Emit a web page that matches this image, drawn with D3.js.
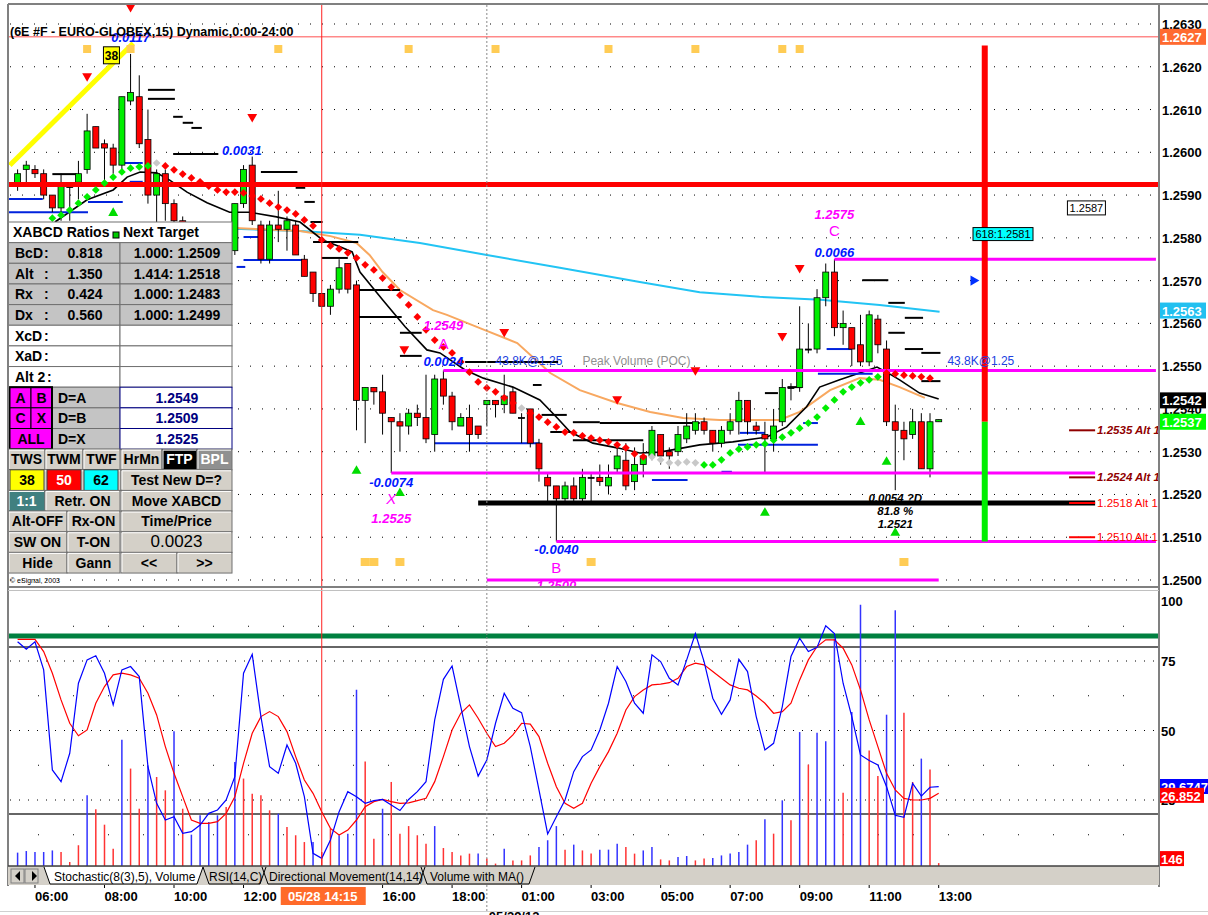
<!DOCTYPE html>
<html>
<head>
<meta charset="utf-8">
<script src="https://cdn.jsdelivr.net/npm/d3@7"></script>
<style>
body { margin: 0; background: #fff; }
svg { display: block; font-family: "Liberation Sans", Arial, sans-serif; }
</style>
</head>
<body>
<div id="chart"></div>
<script>
// ---------- data ----------
// 15 min bars, index 0 = 05:30 ... index 106 = 13:00
const priceTicks = [1.2630, 1.2620, 1.2610, 1.2600, 1.2590, 1.2580, 1.2570, 1.2560, 1.2550, 1.2540, 1.2530, 1.2520, 1.2510, 1.2500];
const timeTicks = [[2, "06:00"], [10, "08:00"], [18, "10:00"], [26, "12:00"], [42, "16:00"], [50, "18:00"],
  [58, "01:00"], [66, "03:00"], [74, "05:00"], [82, "07:00"], [90, "09:00"], [98, "11:00"], [106, "13:00"]];
const cursorBar = 35, cursorLabel = "05/28 14:15";
const dayBreakBar = 54, dayLabel = "05/29/12";

// open, high, low, close
const candles = [
  [1.2592,1.2596,1.2591,1.2595],[1.2596,1.2598,1.2592,1.2597],[1.2596,1.2597,1.2594,1.2595],[1.2595,1.2596,1.2589,1.2590],
  [1.2590,1.2590,1.2586,1.2587],[1.2587,1.2595,1.2584,1.2592],[1.2592,1.2593,1.2584,1.2592],[1.2593,1.2598,1.2589,1.2595],
  [1.2596,1.2609,1.2595,1.2605],[1.2606,1.2606,1.2601,1.2601],[1.2602,1.2603,1.2592,1.2601],[1.2601,1.2602,1.2595,1.2597],
  [1.2597,1.2613,1.2596,1.2613],[1.2612,1.2623,1.2611,1.2614],[1.2613,1.2618,1.2601,1.2602],[1.2603,1.2610,1.2588,1.2590],
  [1.2590,1.2596,1.2583,1.2595],[1.2595,1.2596,1.2584,1.2588],[1.2588,1.2589,1.2582,1.2584],[1.2584,1.2585,1.2578,1.2580],
  [1.2580,1.2582,1.2576,1.2581],[1.2581,1.2583,1.2577,1.2578],[1.2578,1.2581,1.2575,1.2580],[1.2580,1.2582,1.2576,1.2577],
  [1.2577,1.2579,1.2573,1.2576],[1.2577,1.2588,1.2576,1.2588],[1.2588,1.2597,1.2587,1.2596],[1.2597,1.2599,1.2583,1.2584],
  [1.2583,1.2584,1.2574,1.2575],[1.2575,1.2584,1.2574,1.2583],[1.2583,1.2591,1.2579,1.2582],[1.2582,1.2585,1.2577,1.2584],
  [1.2583,1.2584,1.2576,1.2576],[1.2575,1.2576,1.2571,1.2571],[1.2572,1.2572,1.2565,1.2567],[1.2567,1.2567,1.2564,1.2564],
  [1.2564,1.2569,1.2562,1.2568],[1.2568,1.2575,1.2567,1.2573],[1.2574,1.2574,1.2567,1.2568],[1.2569,1.2570,1.2535,1.2542],
  [1.2542,1.2545,1.2532,1.2545],[1.2545,1.2545,1.2541,1.2544],[1.2544,1.2548,1.2534,1.2539],[1.2538,1.2538,1.2525,1.2537],
  [1.2537,1.2539,1.2530,1.2536],[1.2536,1.2540,1.2534,1.2539],[1.2539,1.2541,1.2536,1.2538],[1.2538,1.2548,1.2532,1.2533],
  [1.2534,1.2548,1.2530,1.2547],[1.2547,1.2549,1.2541,1.2543],[1.2543,1.2544,1.2535,1.2537],[1.2536,1.2539,1.2536,1.2538],
  [1.2538,1.2541,1.2530,1.2534],[1.2536,1.2536,1.2533,1.2534],[1.2541,1.2542,1.2536,1.2542],[1.2542,1.2542,1.2538,1.2541],
  [1.2541,1.2548,1.2539,1.2543],[1.2544,1.2545,1.2539,1.2539],[1.2538,1.2539,1.2532,1.2538],[1.2540,1.2540,1.2531,1.2532],
  [1.2532,1.2533,1.2523,1.2526],[1.2524,1.2525,1.2518,1.2522],[1.2522,1.2522,1.2509,1.2519],[1.2519,1.2523,1.2518,1.2522],
  [1.2522,1.2524,1.2518,1.2519],[1.2519,1.2526,1.2518,1.2524],[1.2524,1.2525,1.2518,1.2524],[1.2524,1.2527,1.2522,1.2523],
  [1.2522,1.2527,1.2520,1.2524],[1.2526,1.2531,1.2525,1.2529],[1.2528,1.2532,1.2521,1.2522],[1.2523,1.2531,1.2521,1.2527],
  [1.2527,1.2532,1.2524,1.2529],[1.2529,1.2536,1.2528,1.2535],[1.2534,1.2534,1.2527,1.2529],[1.2530,1.2531,1.2526,1.2529],
  [1.2530,1.2536,1.2529,1.2534],[1.2533,1.2539,1.2532,1.2536],[1.2535,1.2539,1.2534,1.2537],[1.2537,1.2538,1.2534,1.2535],
  [1.2535,1.2535,1.2530,1.2532],[1.2532,1.2536,1.2531,1.2535],[1.2535,1.2539,1.2534,1.2537],[1.2537,1.2544,1.2534,1.2542],
  [1.2542,1.2542,1.2534,1.2537],[1.2536,1.2537,1.2534,1.2535],[1.2534,1.2537,1.2525,1.2533],[1.2533,1.2540,1.2530,1.2536],
  [1.2537,1.2547,1.2536,1.2545],[1.2545,1.2546,1.2542,1.2545],[1.2545,1.2564,1.2544,1.2554],[1.2554,1.2560,1.2553,1.2554],
  [1.2554,1.2568,1.2553,1.2566],[1.2566,1.2574,1.2564,1.2572],[1.2572,1.2575,1.2557,1.2559],[1.2559,1.2563,1.2555,1.2560],
  [1.2559,1.2559,1.2550,1.2554],[1.2555,1.2562,1.2550,1.2551],[1.2551,1.2563,1.2550,1.2562],[1.2561,1.2562,1.2553,1.2555],
  [1.2554,1.2556,1.2536,1.2537],[1.2537,1.2541,1.2521,1.2535],[1.2535,1.2537,1.2528,1.2533],[1.2534,1.2540,1.2533,1.2537],
  [1.2537,1.2539,1.2526,1.2526],[1.2526,1.2539,1.2524,1.2537],[1.25370,1.25375,1.25370,1.25375]
];

// moving averages: [bar, price]
const maFast = [[4.3,1.25837],[8,1.25889],[11,1.25912],[12.6,1.25942],[14.1,1.25954],[16,1.25952],[17.5,1.25935],
  [19.5,1.25907],[21.8,1.25882],[24.4,1.2586],[26.7,1.2586],[29.8,1.25849],[32.5,1.25837],[35.1,1.25795],[37.1,1.25779],
  [38.5,1.25767],[39.4,1.2572],[42,1.25655],[44.6,1.25592],[47.1,1.25538],[48.6,1.25531],[51.5,1.25491],[53.6,1.25472],
  [57,1.25451],[60.1,1.25421],[62,1.25381],[63.6,1.25346],[66.2,1.2532],[69,1.25309],[71.6,1.25297],[73.9,1.25299],
  [76.6,1.25309],[78.5,1.25316],[82.3,1.25323],[86.2,1.25334],[88.5,1.25358],[90.8,1.25405],[92.3,1.25451],[94.6,1.25468],
  [96.9,1.25484],[98.9,1.25498],[100,1.25486],[101.5,1.25468],[103.8,1.25437],[106,1.25423]];
const maMid = [[25,1.25823],[32.5,1.25816],[36,1.25804],[39,1.25788],[40.5,1.2576],[42,1.2572],[44,1.25678],[47.8,1.25631],
  [49.4,1.2562],[53.2,1.25589],[57.5,1.25554],[61.3,1.25484],[64.7,1.25444],[69,1.25414],[72.8,1.25393],[76.6,1.25379],
  [80.8,1.25374],[87.7,1.25374],[90,1.25393],[93.5,1.25444],[96.9,1.25472],[99.2,1.25468],[101.5,1.25451],[104.4,1.25426]];
const maLong = [[24.8,1.25821],[32.5,1.25816],[39.4,1.25807],[46.3,1.25788],[54,1.2576],[62.4,1.2573],[71.6,1.25697],
  [78.5,1.25673],[85.4,1.25662],[92.4,1.25655],[99.2,1.25643],[106.1,1.25627]];

// stop-and-reverse dots from bar 4 on, and their colour runs (g up, r down, x neutral)
const sarStart = 4;
const sarVals = [1.25846,1.25853,1.25865,1.25881,1.25896,1.25912,1.25928,1.25942,1.25954,1.25963,1.25966,1.25968,
  1.25975,
  1.25968,1.25959,1.25949,1.2594,1.25931,1.25921,1.25912,1.25907,1.25907,1.25905,1.25898,1.25891,1.25881,1.25872,
  1.25865,1.25856,1.25842,1.25828,1.25795,1.25781,1.25774,1.25765,1.25753,1.25737,1.25725,1.25706,1.25685,1.25666,
  1.25643,1.25615,1.25585,1.25561,1.25545,1.25531,1.2551,1.25486,1.25463,1.25449,1.2544,1.25426,1.25414,
  1.25402,
  1.2539,1.25381,1.25369,1.25358,1.25346,1.25344,1.25337,1.25332,1.25327,1.25323,1.25316,1.25309,1.25295,1.25288,
  1.25288,1.25281,1.25274,1.25274,1.25276,1.25274,
  1.25269,1.25269,1.25281,1.25297,1.25306,1.25311,1.25316,1.25318,1.25327,1.25334,1.25344,1.25355,1.25367,1.25381,
  1.25402,1.25421,1.2544,1.25451,1.25461,1.25468,1.25475,
  1.25484,1.25482,1.25479,1.25477,1.25475,1.25472];
const sarRuns = [["g",12],["x",1],["r",41],["x",1],["r",14],["x",6],["g",21],["r",6]];

// pivot step segments: [from bar, to bar, price]
const blackSegs = [[15,18.1,1.26146],[15,18.1,1.26125],[17.9,19,1.26083],[19,20.2,1.26069],[20,21.2,1.26057],
  [17.9,23.1,1.25996],[4,6.8,1.25949],[28,32.2,1.25954],[32,33.1,1.25917],[33,34.2,1.25884],[33.7,35.1,1.25837],
  [34,39.2,1.2579],[35,38,1.25753],[38.8,44,1.25678],[39.2,44.2,1.25615],[44,46.5,1.25578],[44,46.5,1.25524],
  [51.5,62.2,1.2551],[59.3,60.3,1.25456],[60.3,63.2,1.25386],[61.3,63.6,1.25346],[63.9,67,1.25369],[67,78.5,1.25367],
  [63.9,72,1.25327],[86,87.5,1.25437],[88.6,90.3,1.25451],[97.2,100.2,1.25701],[100.2,102.1,1.25648],
  [102.1,104.2,1.25613],[100.2,102.1,1.25578],[102.1,104.2,1.2554],[104,106.2,1.25531],[104,106.2,1.25465]];
const blueSegs = [[-1.1,2.9,1.25891],[-1.1,8.1,1.2586],[8.1,12.1,1.25884],[12.1,14.4,1.25975],[12.9,14.4,1.25931],
  [26,27.7,1.25802],[26,32.8,1.25748],[25.2,26.2,1.25732],[48,60.1,1.2532],[73,77.1,1.25234],[93.1,96,1.2554],
  [92.1,98.4,1.25482],[83.1,86,1.25344],[82.9,92.1,1.25316],[81,82.2,1.25253],[90.4,92.1,1.25367]];

// signal markers [bar, price]
const downMarks = [[13,1.2634],[8,1.26178],[27,1.26083],[44.5,1.2554],[56,1.2558],[69,1.25423],[78,1.25491],[88,1.25571],[90,1.2573]];
const upMarks = [[11,1.25858],[39,1.25255],[44,1.25203],[86,1.25157],[97,1.25369],[100,1.25276],[101,1.2511]];
const topSquares = [8, 13, 30, 45, 55, 68, 78, 88, 90];
const bottomSquares = [40, 41, 44, 66, 102];

// XABCD levels: [price, from bar, to bar]
const patternLevels = [[1.2575,94,131],[1.2549,49,131],[1.2525,43,124],[1.2509,62,131],[1.2500,54,106]];
const dLevel = [1.2518, 53, 124];
const mainLevel = 1.25925, highLevel = 1.2627;
const timePriceBar = 111.3, timePriceTop = 1.2625, timePriceMid = 1.2537, timePriceBottom = 1.2509;
const altStrong = [1.2535, 1.2524], altWeak = [1.2518, 1.2510];
const fibLine = [[-0.9, 1.2597], [13.3, 1.26255]];

const chartLabels = [
  [13,1.26258,"0.0117","swing"],[25.8,1.25994,"0.0031","swing"],[49,1.2550,"0.0024","swing"],
  [43,1.25217,"-0.0074","swing"],[62,1.25061,"-0.0040","swing"],[94,1.25755,"0.0066","swing"],
  [49,1.25585,"1.2549","point"],[49,1.2554,"A","letter"],[43,1.25178,"X","letterI"],[43,1.25133,"1.2525","point"],
  [62,1.25016,"B","letter"],[62,1.24977,"1.2500","point"],[94,1.25844,"1.2575","point"],[94,1.25804,"C","letter"],
  [101,1.25182,"0.0054 ?D","dInfo"],[101,1.25152,"81.8 %","dInfo"],[101,1.25122,"1.2521","dInfo"],
  [55,1.25503,"43.8K@1.25","poc"],[65,1.25503,"Peak Volume (POC)","pocName"],[107,1.25503,"43.8K@1.25","poc"]
];
const flagValues = [1.2627, 1.2563, 1.2542, 1.2537];

// lower pane: stochastic %K, %D and volume
const stochK = [81.9,79.2,81.9,71.8,35.8,31.6,41.8,67.0,75.4,76.9,
  70.6,59.2,71.8,73.0,69.4,37.0,23.8,17.8,19.0,13.0,
  13.6,16.0,20.2,21.4,25.0,33.4,70.6,77.4,55.0,37.0,
  34.6,44.8,38.2,26.2,5.8,4.0,10.6,20.8,28.0,26.2,
  23.8,24.8,25.2,23.2,21.2,25.2,28.0,31.6,53.8,68.4,
  73.2,58.6,44.2,33.6,39.4,52.6,63.4,58.0,56.4,44.2,
  28.6,12.8,19.0,25.0,35.2,40.6,43.0,50.2,59.8,73.0,
  67.6,59.8,56.2,77.2,74.8,68.8,66.4,75.4,84.9,74.8,
  61.6,55.8,61.0,75.6,71.2,55.0,43.0,45.4,58.6,76.6,
  83.2,78.4,79.9,87.7,84.9,67.0,55.0,41.2,39.2,37.6,
  29.8,19.5,18.8,31.0,26.4,29.6,29.8];
const stochD = [82.8,82.8,82.8,78.4,70.6,61.0,52.6,48.1,50.2,59.8,
  65.8,70.0,70.6,70.0,68.8,63.4,55.6,44.2,34.6,26.2,
  17.8,16.6,16.6,17.2,20.2,26.2,38.2,49.0,55.0,56.8,
  55.0,49.6,40.6,32.2,27.4,20.8,14.8,12.4,14.2,17.8,
  22.6,24.4,25.2,24.4,23.8,24.0,24.8,25.6,31.6,40.6,
  50.2,56.2,59.2,54.4,49.0,44.2,45.4,48.4,52.6,52.3,
  47.8,38.2,29.8,23.8,22.0,23.8,31.0,37.0,42.4,49.0,
  57.4,62.2,64.6,66.4,66.7,67.2,68.8,73.0,74.2,73.6,
  71.2,68.8,66.4,65.2,64.6,62.4,59.8,56.2,56.8,59.8,
  68.2,75.4,80.2,82.6,82.6,79.6,73.6,64.6,53.8,44.2,
  34.6,28.6,25.6,25.0,25.0,25.6,27.4];
const volumes = [670,750,700,700,780,700,200,1040,3540,2840,
  2070,870,6330,4880,2870,5040,4460,3790,6750,2870,
  1570,2540,2200,2540,2960,5210,4380,3620,3540,2790,
  2620,1950,1540,1200,1200,700,1870,1540,1620,8830,
  5240,1370,2870,4210,1620,2000,1540,1120,2000,900,
  700,530,620,620,370,120,870,280,280,530,
  950,1290,2000,820,1070,780,620,820,820,1120,
  950,620,780,950,330,280,450,500,280,370,
  400,530,620,700,1070,1290,2340,1620,3290,2290,
  6710,5080,6680,6250,11390,3670,7720,13090,5790,4510,
  7580,12810,7680,4210,5380,4830,146];
const volSide = "bbbbbrrrbr" + "rrbrrbrrbr" + "bbbbrbrrrr" + "brrrbrrbbb" + "rrbrrrrrbr" +
  "rrrbrrbrrr" + "bbbrbrrbbb" + "rrbbrrbbrr" + "bbbbbrbrbr" + "brbbbrbbrr" + "bbrrbrr";
const stochLastK = "29.6747", stochLastD = "26.852";
const stochMajor = [75, 50, 25], stochMinor = [87.5, 62.5, 37.5, 12.5], stochBands = [80, 20], stochLine = 84;
const stochTicks = [100, 75, 50, 25];

// XABCD panel contents
const ratioRows = [["BcD", "0.818", "1.000: 1.2509"], ["Alt", "1.350", "1.414: 1.2518"],
  ["Rx", "0.424", "1.000: 1.2483"], ["Dx", "0.560", "1.000: 1.2499"]];
const blankRows = ["XcD", "XaD", "Alt 2"];
const targetRows = [["D=A", "1.2549"], ["D=B", "1.2509"], ["D=X", "1.2525"]];
const tabs = ["Stochastic(8(3),5), Volume", "RSI(14,C)", "Directional Movement(14,14)", "Volume with MA()"];

// ---------- layout ----------
const W = 1208, H = 915;
const L = 8, R = 1158;
const x = d3.scaleLinear().domain([0, 106]).range([17.6, 938.7]);
const y = d3.scaleLinear().domain([1.2500, 1.2630]).range([580, 24]);
const ys = d3.scaleLinear().domain([0, 100]).range([869.5, 591.5]);
const yv = d3.scaleLinear().domain([0, 13000]).range([866, 606.5]);

const svg = d3.select("#chart").append("svg").attr("width", W).attr("height", H);
const defs = svg.append("defs");
defs.append("clipPath").attr("id", "clipMain").append("rect")
  .attr("x", L + 1).attr("y", 5).attr("width", R - L - 1).attr("height", 581);
defs.append("clipPath").attr("id", "clipLow").append("rect")
  .attr("x", L + 1).attr("y", 592).attr("width", R - L - 1).attr("height", 274);

svg.append("rect").attr("width", W).attr("height", H).attr("fill", "#fff");

// ---------- main price pane ----------
const main = svg.append("g").attr("clip-path", "url(#clipMain)");

main.selectAll("line.grid").data(priceTicks).join("line")
  .attr("x1", L + 2).attr("x2", R).attr("y1", d => y(d)).attr("y2", d => y(d))
  .attr("stroke", "#000").attr("stroke-dasharray", "1,11");

main.append("line").attr("x1", L).attr("x2", R).attr("y1", y(highLevel)).attr("y2", y(highLevel))
  .attr("stroke", "#ff5050").attr("stroke-width", 1);

// moving averages
const priceLine = d3.line().x(d => x(d[0])).y(d => y(d[1]));
main.append("path").datum(maLong).attr("d", priceLine).attr("fill", "none").attr("stroke", "#22c4f4").attr("stroke-width", 2);
main.append("path").datum(maMid).attr("d", priceLine).attr("fill", "none").attr("stroke", "#f8a860").attr("stroke-width", 2);
main.append("path").datum(maFast).attr("d", priceLine).attr("fill", "none").attr("stroke", "#000").attr("stroke-width", 1.6);

// step segments
main.selectAll("line.bseg").data(blackSegs).join("line")
  .attr("x1", d => x(d[0])).attr("x2", d => x(d[1])).attr("y1", d => y(d[2])).attr("y2", d => y(d[2]))
  .attr("stroke", "#000").attr("stroke-width", 2);
main.selectAll("line.useg").data(blueSegs).join("line")
  .attr("x1", d => x(d[0])).attr("x2", d => x(d[1])).attr("y1", d => y(d[2])).attr("y2", d => y(d[2]))
  .attr("stroke", "#0022dd").attr("stroke-width", 2);

// yellow swing line
main.append("path").datum(fibLine).attr("d", priceLine).attr("stroke", "#ffff00").attr("stroke-width", 5);

// candles
const cg = main.selectAll("g.candle").data(candles).join("g");
cg.append("line")
  .attr("x1", (d, i) => x(i)).attr("x2", (d, i) => x(i))
  .attr("y1", d => y(d[1])).attr("y2", d => y(d[2]))
  .attr("stroke", "#000").attr("stroke-width", 1);
cg.append("rect")
  .attr("x", (d, i) => x(i) - 3).attr("width", 6)
  .attr("y", d => y(Math.max(d[0], d[3])))
  .attr("height", d => Math.max(1, Math.abs(y(d[0]) - y(d[3]))))
  .attr("fill", d => d[3] > d[0] ? "#00ee00" : d[3] < d[0] ? "#ff0000" : "#000")
  .attr("stroke", "#000").attr("stroke-width", 0.8);

// pattern levels
main.selectAll("line.pat").data(patternLevels).join("line")
  .attr("x1", d => x(d[1])).attr("x2", d => x(d[2])).attr("y1", d => y(d[0])).attr("y2", d => y(d[0]))
  .attr("stroke", "#ff00ff").attr("stroke-width", 3);
main.append("line").attr("x1", x(dLevel[1])).attr("x2", x(dLevel[2]))
  .attr("y1", y(dLevel[0])).attr("y2", y(dLevel[0])).attr("stroke", "#000").attr("stroke-width", 5);
main.append("line").attr("x1", L).attr("x2", R).attr("y1", y(mainLevel)).attr("y2", y(mainLevel))
  .attr("stroke", "#ff0000").attr("stroke-width", 5);

// alt targets on the right
const altG = main.append("g");
altStrong.concat(altWeak).forEach((v, k) => {
  const strong = k < altStrong.length;
  altG.append("line").attr("x1", x(121)).attr("x2", x(124)).attr("y1", y(v)).attr("y2", y(v))
    .attr("stroke", strong ? "#900000" : "#ff0000").attr("stroke-width", 2);
  altG.append("text").attr("x", x(124) + 2).attr("y", y(v) + 4)
    .attr("font-size", 11.5).attr("font-weight", strong ? "bold" : "normal")
    .attr("font-style", strong ? "italic" : "normal")
    .attr("fill", strong ? "#900000" : "#ff0000").text(v.toFixed(4) + " Alt 1");
});

// time/price vertical
main.append("line").attr("x1", x(timePriceBar)).attr("x2", x(timePriceBar))
  .attr("y1", y(timePriceTop)).attr("y2", y(timePriceMid)).attr("stroke", "#ff0000").attr("stroke-width", 6);
main.append("line").attr("x1", x(timePriceBar)).attr("x2", x(timePriceBar))
  .attr("y1", y(timePriceMid)).attr("y2", y(timePriceBottom)).attr("stroke", "#00ee00").attr("stroke-width", 6);

// SAR diamonds
const sarColors = [];
sarRuns.forEach(r => { for (let k = 0; k < r[1]; k++) sarColors.push(r[0]); });
const sarFill = { g: "#00ee00", r: "#ff0000", x: "#c8c8c8" };
main.selectAll("path.sar").data(sarVals).join("path")
  .attr("d", d3.symbol(d3.symbolSquare, 30))
  .attr("transform", (d, k) => `translate(${x(k + sarStart)},${y(d)}) rotate(45)`)
  .attr("fill", (d, k) => sarFill[sarColors[k]]);

// triangles
main.selectAll("path.dn").data(downMarks).join("path")
  .attr("d", d3.symbol(d3.symbolTriangle, 42))
  .attr("transform", d => `translate(${x(d[0])},${y(d[1])}) rotate(180)`)
  .attr("fill", "#ff0000");
main.selectAll("path.up").data(upMarks).join("path")
  .attr("d", d3.symbol(d3.symbolTriangle, 42))
  .attr("transform", d => `translate(${x(d[0])},${y(d[1])})`)
  .attr("fill", "#00dd00");
main.append("path").attr("d", d3.symbol(d3.symbolTriangle, 46))
  .attr("transform", `translate(${x(110)},${y(1.2570)}) rotate(90)`).attr("fill", "#0030ff");

// squares
main.selectAll("rect.tsq").data(topSquares).join("rect")
  .attr("x", d => x(d) - 4).attr("y", 45).attr("width", 8).attr("height", 8).attr("fill", "#ffcc55");
main.selectAll("rect.bsq").data(bottomSquares).join("rect")
  .attr("x", d => x(d) - 4.5).attr("y", 558).attr("width", 9).attr("height", 8).attr("fill", "#ffcc55");

// 38 box
main.append("rect").attr("x", x(10.8) - 8).attr("y", y(1.26228) - 8).attr("width", 16).attr("height", 17)
  .attr("fill", "#ffff00").attr("stroke", "#000");
main.append("text").attr("x", x(10.8)).attr("y", y(1.26228) + 5).attr("text-anchor", "middle")
  .attr("font-size", 12).attr("font-weight", "bold").text("38");

// labels
const labelStyle = {
  swing: { fill: "#0018ff", w: "bold", s: "italic", size: 13, a: "middle" },
  point: { fill: "#ff00ff", w: "bold", s: "italic", size: 13, a: "middle" },
  letter: { fill: "#ff00ff", w: "normal", s: "normal", size: 15, a: "middle" },
  letterI: { fill: "#ff00ff", w: "normal", s: "italic", size: 15, a: "middle" },
  dInfo: { fill: "#000", w: "bold", s: "italic", size: 11.5, a: "middle" },
  poc: { fill: "#2040e0", w: "normal", s: "normal", size: 12, a: "start" },
  pocName: { fill: "#909090", w: "normal", s: "normal", size: 12, a: "start" }
};
main.selectAll("text.lab").data(chartLabels).join("text")
  .attr("x", d => x(d[0])).attr("y", d => y(d[1]))
  .attr("text-anchor", d => labelStyle[d[3]].a)
  .attr("font-size", d => labelStyle[d[3]].size)
  .attr("font-weight", d => labelStyle[d[3]].w)
  .attr("font-style", d => labelStyle[d[3]].s)
  .attr("fill", d => labelStyle[d[3]].fill)
  .text(d => d[2]);

// small boxed values
main.append("rect").attr("x", x(123) - 19).attr("y", y(1.2587) - 7).attr("width", 38).attr("height", 14)
  .attr("fill", "#fff").attr("stroke", "#000");
main.append("text").attr("x", x(123)).attr("y", y(1.2587) + 4).attr("text-anchor", "middle")
  .attr("font-size", 11).text("1.2587");
main.append("rect").attr("x", x(113.4) - 30).attr("y", y(1.2581) - 6).attr("width", 60).attr("height", 13)
  .attr("fill", "#00ffff").attr("stroke", "#000");
main.append("text").attr("x", x(113.4)).attr("y", y(1.2581) + 4).attr("text-anchor", "middle")
  .attr("font-size", 11).text("618:1.2581");

main.append("text").attr("x", 10).attr("y", 36).attr("font-size", 12.5).attr("font-weight", "bold")
  .text("(6E #F - EURO-GLOBEX,15) Dynamic,0:00-24:00");
main.append("text").attr("x", 10).attr("y", 583).attr("font-size", 7).text("© eSignal, 2003");

// ---------- lower stochastic pane ----------
const low = svg.append("g").attr("clip-path", "url(#clipLow)");
low.selectAll("line.maj").data(stochMajor).join("line")
  .attr("x1", L + 2).attr("x2", R).attr("y1", d => ys(d)).attr("y2", d => ys(d))
  .attr("stroke", "#000").attr("stroke-dasharray", "1,8");
low.selectAll("line.min").data(stochMinor).join("line")
  .attr("x1", L + 30).attr("x2", R).attr("y1", d => ys(d)).attr("y2", d => ys(d))
  .attr("stroke", "#000").attr("stroke-dasharray", "1,34");
low.selectAll("line.band").data(stochBands).join("line")
  .attr("x1", L).attr("x2", R).attr("y1", d => ys(d)).attr("y2", d => ys(d))
  .attr("stroke", "#333").attr("stroke-width", 1.5);
low.append("line").attr("x1", L).attr("x2", R).attr("y1", ys(stochLine)).attr("y2", ys(stochLine))
  .attr("stroke", "#008040").attr("stroke-width", 5);

low.selectAll("line.vol").data(volumes).join("line")
  .attr("x1", (d, i) => x(i)).attr("x2", (d, i) => x(i))
  .attr("y1", yv(0)).attr("y2", d => yv(d))
  .attr("stroke", (d, i) => volSide[i] === "b" ? "#3333ff" : "#ff3333").attr("stroke-width", 1.5);

const stochLine2 = d3.line().x((d, i) => x(i)).y(d => ys(d));
low.append("path").datum(stochD).attr("d", stochLine2).attr("fill", "none").attr("stroke", "#ff0000").attr("stroke-width", 1.2);
low.append("path").datum(stochK).attr("d", stochLine2).attr("fill", "none").attr("stroke", "#0000ff").attr("stroke-width", 1.2);

// cursor and day break through both panes
svg.append("line").attr("x1", x(cursorBar)).attr("x2", x(cursorBar)).attr("y1", 5).attr("y2", 866)
  .attr("stroke", "#ff2020").attr("stroke-width", 1);
svg.append("line").attr("x1", x(dayBreakBar)).attr("x2", x(dayBreakBar)).attr("y1", 5).attr("y2", 912)
  .attr("stroke", "#888").attr("stroke-dasharray", "2,2");

// ---------- XABCD panel ----------
const tb = svg.append("g").attr("font-weight", "bold").attr("font-size", 14);
const rowH = 20.65, T0 = 222, TL = 8, TM = 120, TR = 232;
const rowTop = k => T0 + k * rowH;
function cell(x0, x1, k, fill, stroke, sw) {
  tb.append("rect").attr("x", x0).attr("y", rowTop(k)).attr("width", x1 - x0).attr("height", rowH)
    .attr("fill", fill).attr("stroke", stroke).attr("stroke-width", sw || 1);
}
function txt(tx, k, t, anchor, color, size, weight) {
  tb.append("text").attr("x", tx).attr("y", rowTop(k) + rowH / 2 + 5)
    .attr("text-anchor", anchor || "start").attr("fill", color || "#000")
    .attr("font-size", size || 14).attr("font-weight", weight || "bold").text(t);
}
function button(x0, x1, k, label, fill, color, size, weight) {
  const t = rowTop(k);
  tb.append("rect").attr("x", x0).attr("y", t).attr("width", x1 - x0).attr("height", rowH)
    .attr("fill", fill || "#d4d0c8").attr("stroke", "#707070");
  tb.append("path").attr("d", `M${x0 + 1},${t + rowH - 1}V${t + 1}H${x1 - 1}`)
    .attr("fill", "none").attr("stroke", "#fff");
  txt((x0 + x1) / 2, k, label, "middle", color, size, weight);
}

cell(TL, TR, 0, "#fff", "#707070");
txt(13, 0, "XABCD Ratios");
tb.append("rect").attr("x", 113).attr("y", rowTop(0) + 10).attr("width", 6).attr("height", 6)
  .attr("fill", "#00cc00").attr("stroke", "#000");
txt(123, 0, "Next Target");
ratioRows.forEach((r, j) => {
  const k = j + 1;
  cell(TL, TM, k, "#c4c4c4", "#707070");
  cell(TM, TR, k, "#c4c4c4", "#707070");
  txt(15, k, r[0]); txt(44, k, ":");
  txt(85, k, r[1], "middle");
  txt(177, k, r[2], "middle");
});
blankRows.forEach((r, j) => {
  const k = j + 5;
  cell(TL, TM, k, "#fff", "#707070");
  cell(TM, TR, k, "#fff", "#707070");
  txt(15, k, r); txt(r.length > 3 ? 47 : 44, k, ":");
});
targetRows.forEach((r, j) => {
  const k = j + 8;
  cell(52, TM, k, "#c4c4c4", "#707070");
  cell(TM, TR, k, "#fff", "#000080");
  txt(58, k, r[0]);
  txt(177, k, r[1], "middle", "#000080");
});
[["A", "B"], ["C", "X"]].forEach((p, j) => {
  cell(10, 31, 8 + j, "#ff00ff", "#000");
  cell(31, 52, 8 + j, "#ff00ff", "#000");
  txt(20.5, 8 + j, p[0], "middle");
  txt(41.5, 8 + j, p[1], "middle");
});
cell(10, 52, 10, "#ff00ff", "#000");
txt(31, 10, "ALL", "middle");
tb.append("rect").attr("x", 9).attr("y", rowTop(8)).attr("width", 43).attr("height", rowH * 3)
  .attr("fill", "none").attr("stroke", "#000").attr("stroke-width", 2);

button(8, 45, 11, "TWS"); button(45, 83, 11, "TWM"); button(83, 120, 11, "TWF");
button(121, 162, 11, "HrMn"); button(162, 197, 11, "FTP", "#000", "#fff"); button(197, 232, 11, "BPL", "#909090", "#fff");
button(8, 121, 12, "", "#d4d0c8");
cell(10, 44, 12, "#ffff00", "#404040"); txt(27, 12, "38", "middle");
cell(47, 81, 12, "#ff0000", "#404040"); txt(64, 12, "50", "middle", "#fff");
cell(84, 118, 12, "#00ffff", "#404040"); txt(101, 12, "62", "middle");
button(121, 232, 12, "Test New D=?");
button(8, 45, 13, "1:1", "#408080", "#fff"); button(45, 120, 13, "Retr. ON"); button(121, 232, 13, "Move XABCD");
button(8, 67, 14, "Alt-OFF"); button(67, 120, 14, "Rx-ON"); button(121, 232, 14, "Time/Price");
button(8, 67, 15, "SW ON"); button(67, 120, 15, "T-ON"); button(121, 232, 15, "0.0023", null, "#000", 17, "normal");
button(8, 67, 16, "Hide"); button(67, 120, 16, "Gann"); button(121, 177, 16, "<<"); button(177, 232, 16, ">>");

// ---------- frames and axes ----------
svg.append("line").attr("x1", L).attr("x2", W).attr("y1", 4).attr("y2", 4).attr("stroke", "#808080").attr("stroke-width", 2);
svg.append("line").attr("x1", L).attr("x2", L).attr("y1", 4).attr("y2", 886).attr("stroke", "#808080").attr("stroke-width", 2);
svg.append("line").attr("x1", R + 1).attr("x2", R + 1).attr("y1", 4).attr("y2", 887).attr("stroke", "#808080").attr("stroke-width", 2);
svg.append("line").attr("x1", L).attr("x2", R + 1).attr("y1", 587).attr("y2", 587).attr("stroke", "#808080").attr("stroke-width", 2);
svg.append("line").attr("x1", L).attr("x2", R + 1).attr("y1", 590.5).attr("y2", 590.5).attr("stroke", "#c0c0c0").attr("stroke-width", 1);

const ax = svg.append("g").attr("font-size", 13).attr("font-weight", "bold");
ax.selectAll("text.pt").data(priceTicks).join("text")
  .attr("x", R + 4).attr("y", d => y(d) + 5).text(d => d.toFixed(4));
const flagFill = ["#ff6a30", "#22c0f0", "#000", "#00ff00"];
flagValues.forEach((v, k) => {
  ax.append("rect").attr("x", R + 2).attr("y", y(v) - 8).attr("width", 46).attr("height", 16).attr("fill", flagFill[k]);
  ax.append("text").attr("x", R + 4).attr("y", y(v) + 5).attr("fill", "#fff").text(v.toFixed(4));
});
ax.selectAll("text.st").data(stochTicks).join("text")
  .attr("x", R + 3).attr("y", d => (d === 100 ? ys(d) + 14 : ys(d) + 5)).text(d => d);
ax.append("rect").attr("x", R + 2).attr("y", ys(+stochLastK) - 8).attr("width", 52).attr("height", 15).attr("fill", "#0000ff");
ax.append("text").attr("x", R + 3).attr("y", ys(+stochLastK) + 5).attr("fill", "#fff").text(stochLastK);
ax.append("rect").attr("x", R + 2).attr("y", ys(+stochLastD) - 7).attr("width", 44).attr("height", 15).attr("fill", "#ff0000");
ax.append("text").attr("x", R + 3).attr("y", ys(+stochLastD) + 6).attr("fill", "#fff").text(stochLastD);
ax.append("rect").attr("x", R + 2).attr("y", yv(volumes[volumes.length - 1]) - 12).attr("width", 24).attr("height", 15).attr("fill", "#ff0000");
ax.append("text").attr("x", R + 3).attr("y", yv(volumes[volumes.length - 1]) + 1).attr("fill", "#fff").text(volumes[volumes.length - 1]);

// tab strip
const tabG = svg.append("g").attr("font-size", 12);
tabG.append("rect").attr("x", L).attr("y", 866).attr("width", R - L + 1).attr("height", 19).attr("fill", "#d4d0c8");
tabG.append("line").attr("x1", L).attr("x2", R + 1).attr("y1", 866).attr("y2", 866).attr("stroke", "#404040").attr("stroke-width", 1.5);
[[11, "M20,871 L15,876 L20,881Z"], [25, "M32,871 L37,876 L32,881Z"]].forEach(b => {
  tabG.append("rect").attr("x", b[0]).attr("y", 869).attr("width", 13).attr("height", 14)
    .attr("fill", "#d4d0c8").attr("stroke", "#808080");
  tabG.append("path").attr("d", b[1]).attr("fill", "#000");
});
const tabX = [[44, 54, 203], [203, 209, 266], [262, 269, 425], [421, 430, 535]];
tabs.forEach((t, k) => {
  const [a, tx, b] = tabX[k];
  tabG.append("path").attr("d", `M${a},867 L${a + 6},884 L${b - 6},884 L${b},867`)
    .attr("fill", k === 0 ? "#fff" : "none").attr("stroke", "#000");
  tabG.append("text").attr("x", tx).attr("y", 881).text(t);
});

// time axis
const tx = svg.append("g").attr("font-size", 13).attr("font-weight", "bold");
tx.selectAll("line.tk").data(timeTicks).join("line")
  .attr("x1", d => x(d[0])).attr("x2", d => x(d[0])).attr("y1", 885).attr("y2", 888).attr("stroke", "#000");
tx.selectAll("text.tk").data(timeTicks).join("text")
  .attr("x", d => x(d[0])).attr("y", 901).text(d => d[1]);
tx.append("rect").attr("x", x(cursorBar) - 41).attr("y", 887).attr("width", 85).attr("height", 18).attr("fill", "#ff6a2a");
tx.append("text").attr("x", x(cursorBar) + 1).attr("y", 901).attr("text-anchor", "middle").attr("fill", "#fff").text(cursorLabel);
svg.append("line").attr("x1", 0).attr("x2", W).attr("y1", 911.5).attr("y2", 911.5).attr("stroke", "#d0d0d0");
tx.append("text").attr("x", x(dayBreakBar) + 2).attr("y", 921).text(dayLabel);
</script>
</body>
</html>
